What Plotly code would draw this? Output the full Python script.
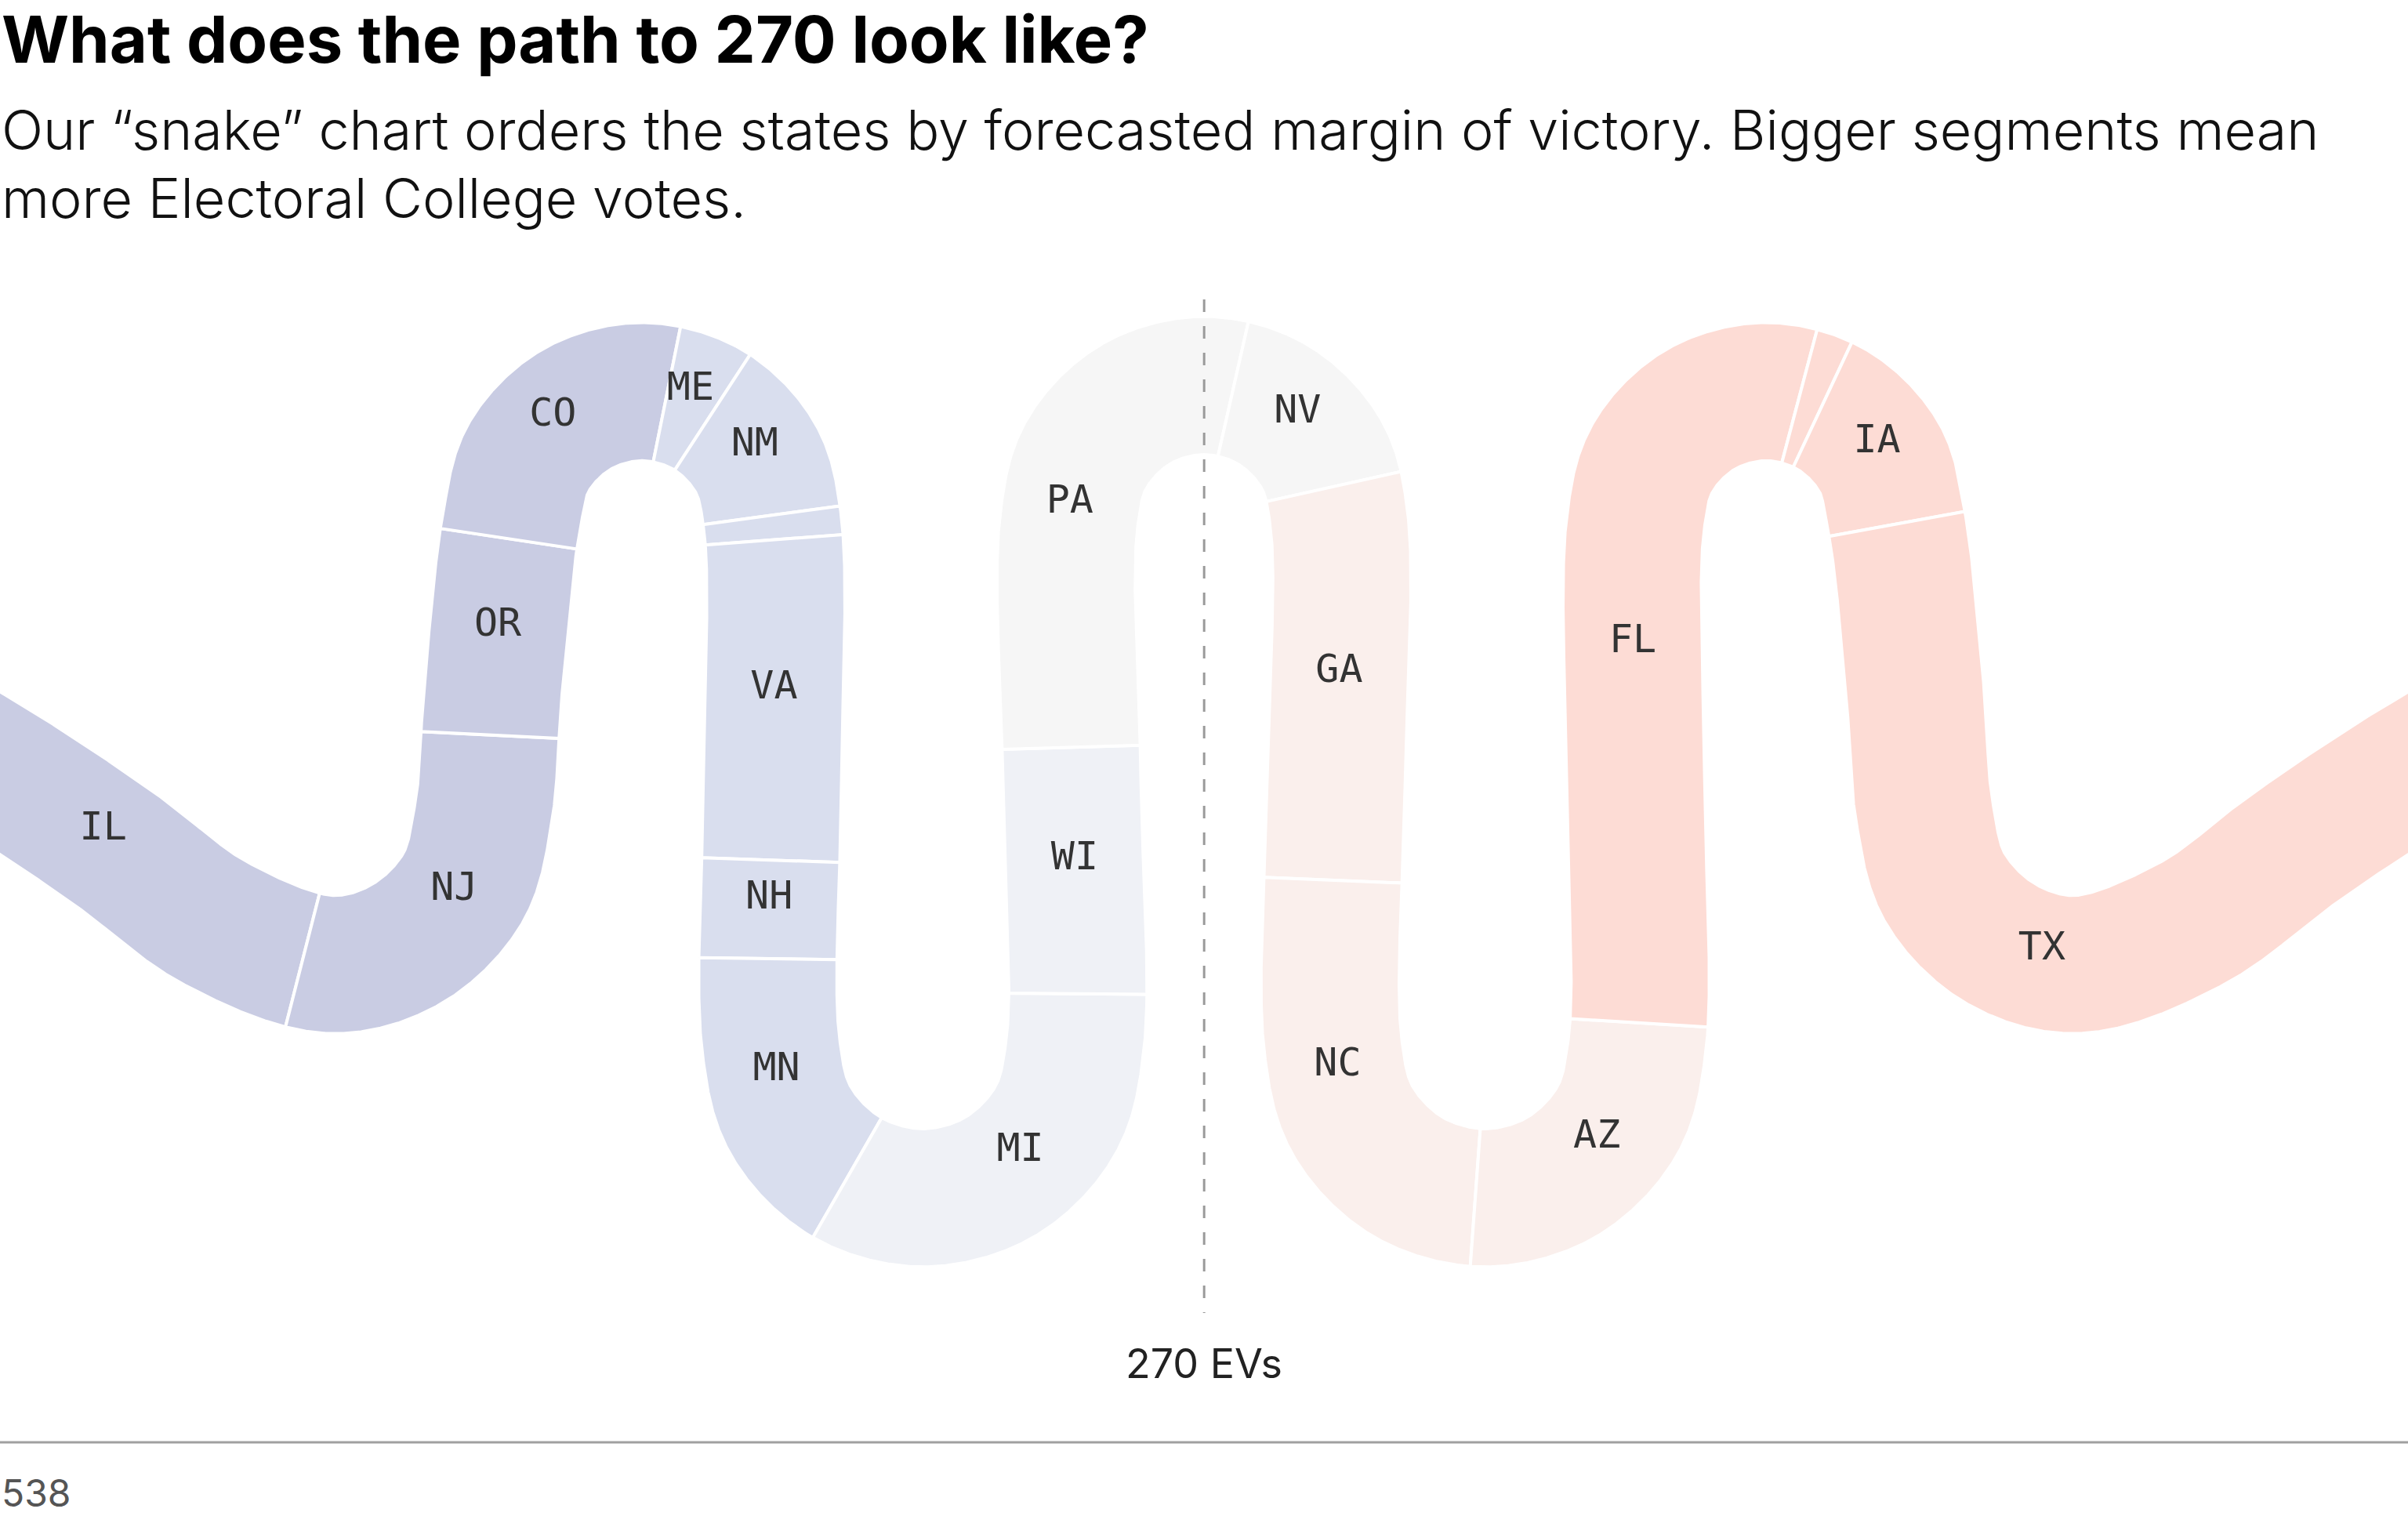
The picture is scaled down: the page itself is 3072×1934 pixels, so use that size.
import numpy as np
import plotly.graph_objects as go

# ---------------- data ----------------
states = ["IL", "NJ", "OR", "CO", "ME", "NM", "NE-2", "VA", "NH", "MN", "MI",
          "WI", "PA", "NV", "GA", "NC", "AZ", "FL", "ME-2", "IA", "TX"]
electoral_votes = [19, 14, 8, 10, 2, 5, 1, 13, 4, 10, 15,
                   10, 19, 6, 16, 16, 11, 30, 1, 6, 40]
rating = ["likely_d", "likely_d", "likely_d", "likely_d", "lean_d", "lean_d", "lean_d",
          "lean_d", "lean_d", "lean_d", "tilt_d", "tilt_d", "tossup", "tossup",
          "tilt_r", "tilt_r", "tilt_r", "lean_r", "lean_r", "lean_r", "lean_r"]
ev_before_first = 140      # EVs of safer Democratic states off-screen to the left
total_ev = 538
threshold_label = "270 EVs"

rating_colors = {
    "likely_d": "#c9cce3",
    "lean_d": "#d9deee",
    "tilt_d": "#eff1f6",
    "tossup": "#f6f6f6",
    "tilt_r": "#faefec",
    "lean_r": "#fddcd5",
}

# ---------------- geometry (layout only) ----------------
W_FIG, H_FIG = 3072, 1934
S = W_FIG / 1568.0
BAND = 90 * S
PX_PER_EV = 16.05 * S
CX = 784.0
LABEL_DY = -14
ALONG_SHIFT = 6


def arc(cx, cy, r, angles):
    return [(cx + r * np.cos(np.radians(a)), cy - r * np.sin(np.radians(a))) for a in angles]


left = [(-220, 385), (-110, 440), (0, 503), (75, 553), (140, 601)]
left += arc(215, 528, 100, [270, 300, 330, 360])
left += [(321, 450)]
left += arc(418, 340, 85, [180, 150, 120, 90, 60, 30, 0])
left += [(503, 510)]
left += arc(601, 681, 99, [180, 210, 240, 270, 300, 330, 360])
left += [(698, 510)]
left += arc(CX, 339, 88, [180, 150, 120])
mid = (CX, 339 - 88)
right = [(2 * CX - x, y) for (x, y) in reversed(left)]
way = np.array(left + [mid] + right, dtype=float) * S


def catmull_rom(P, n=60, alpha=0.5):
    P = np.vstack([2 * P[0] - P[1], P, 2 * P[-1] - P[-2]])
    out = []
    for i in range(1, len(P) - 2):
        p0, p1, p2, p3 = P[i - 1], P[i], P[i + 1], P[i + 2]
        t0 = 0.0
        t1 = t0 + np.linalg.norm(p1 - p0) ** alpha
        t2 = t1 + np.linalg.norm(p2 - p1) ** alpha
        t3 = t2 + np.linalg.norm(p3 - p2) ** alpha
        t = np.linspace(t1, t2, n, endpoint=False)[:, None]
        a1 = (t1 - t) / (t1 - t0) * p0 + (t - t0) / (t1 - t0) * p1
        a2 = (t2 - t) / (t2 - t1) * p1 + (t - t1) / (t2 - t1) * p2
        a3 = (t3 - t) / (t3 - t2) * p2 + (t - t2) / (t3 - t2) * p3
        b1 = (t2 - t) / (t2 - t0) * a1 + (t - t0) / (t2 - t0) * a2
        b2 = (t3 - t) / (t3 - t1) * a2 + (t - t1) / (t3 - t1) * a3
        out.append((t2 - t) / (t2 - t1) * b1 + (t - t1) / (t2 - t1) * b2)
    out.append(P[-2][None, :])
    return np.vstack(out)


curve = catmull_rom(way)
seg = np.linalg.norm(np.diff(curve, axis=0), axis=1)
slen = np.concatenate([[0], np.cumsum(seg)])
s_uni = np.arange(0, slen[-1], 1.0)
cx_u = np.interp(s_uni, slen, curve[:, 0])
cy_u = np.interp(s_uni, slen, curve[:, 1])
dx = np.gradient(cx_u)
dy = np.gradient(cy_u)
nrm = np.hypot(dx, dy)
nx, ny = -dy / nrm, dx / nrm
s_mid = s_uni[np.argmin(np.abs(cx_u - CX * S) + np.abs(cy_u - mid[1] * S))]


def s_of_ev(ev):
    return s_mid + (ev - total_ev / 2.0) * PX_PER_EV + ALONG_SHIFT


def point_at(s):
    return np.interp(s, s_uni, cx_u), np.interp(s, s_uni, cy_u)


fig = go.Figure()
cum = ev_before_first
label_x, label_y, label_t = [], [], []
for st, ev, rt in zip(states, electoral_votes, rating):
    s0, s1 = s_of_ev(cum), s_of_ev(cum + ev)
    cum += ev
    ss = np.linspace(s0, s1, max(int(s1 - s0), 2) + 1)
    px = np.interp(ss, s_uni, cx_u)
    py = np.interp(ss, s_uni, cy_u)
    qx = np.interp(ss, s_uni, nx)
    qy = np.interp(ss, s_uni, ny)
    h = BAND / 2
    xs = np.concatenate([px + qx * h, (px - qx * h)[::-1], [px[0] + qx[0] * h]])
    ys = np.concatenate([py + qy * h, (py - qy * h)[::-1], [py[0] + qy[0] * h]])
    fig.add_trace(go.Scatter(x=xs, y=ys, mode="lines", fill="toself",
                             fillcolor=rating_colors[rt],
                             line=dict(color="white", width=4),
                             hoverinfo="text", text=f"{st}: {ev} EVs",
                             showlegend=False))
    if ev >= 2:
        lx, ly = point_at((s0 + s1) / 2)
        label_x.append(lx)
        label_y.append(ly + LABEL_DY)
        label_t.append(st)

fig.add_trace(go.Scatter(x=label_x, y=label_y, mode="text", text=label_t,
                         textfont=dict(family="DejaVu Sans Mono", size=50, color="#333333"),
                         hoverinfo="skip", showlegend=False))

# 270 line at the chart's midpoint (half of all electoral votes)
lx270, _ = point_at(s_of_ev(total_ev / 2.0) - ALONG_SHIFT)
fig.add_trace(go.Scatter(x=[lx270, lx270], y=[382, 1675], mode="lines",
                         line=dict(color="#9a9a9a", width=3, dash="16px,18px"),
                         hoverinfo="skip", showlegend=False))
fig.add_annotation(x=lx270, y=1739, xref="x", yref="y", text=threshold_label,
                   showarrow=False, xanchor="center", yanchor="middle",
                   font=dict(family="Inter", size=52, color="#222222"))

# footer rule
fig.add_shape(type="line", xref="x", yref="y", x0=0, x1=W_FIG, y0=1840, y1=1840,
              line=dict(color="#a0a0a0", width=3))
fig.add_annotation(x=0, y=1904, xref="x", yref="y", text="538", showarrow=False,
                   xanchor="left", yanchor="middle",
                   font=dict(family="Inter", size=48, color="#555555"))

# titles
fig.add_annotation(x=0, y=50, xref="x", yref="y", text="<b>What does the path to 270 look like?</b>",
                   showarrow=False, xanchor="left", yanchor="middle",
                   font=dict(family="Inter", size=83, color="#000000"))
fig.add_annotation(x=0, y=165, xref="x", yref="y",
                   text="Our \u201csnake\u201d chart orders the states by forecasted margin of victory. Bigger segments mean",
                   showarrow=False, xanchor="left", yanchor="middle",
                   font=dict(family="Inter", size=70, color="#111111", weight=300))
fig.add_annotation(x=0, y=252, xref="x", yref="y", text="more Electoral College votes.",
                   showarrow=False, xanchor="left", yanchor="middle",
                   font=dict(family="Inter", size=70, color="#111111", weight=300))

fig.update_layout(
    width=W_FIG, height=H_FIG,
    margin=dict(l=0, r=0, t=0, b=0),
    paper_bgcolor="white", plot_bgcolor="white",
    xaxis=dict(range=[0, W_FIG], visible=False, fixedrange=True),
    yaxis=dict(range=[H_FIG, 0], visible=False, fixedrange=True),
)
fig.write_html("out.html", config={"displayModeBar": False},
               post_script="document.body.style.margin='0px';")
